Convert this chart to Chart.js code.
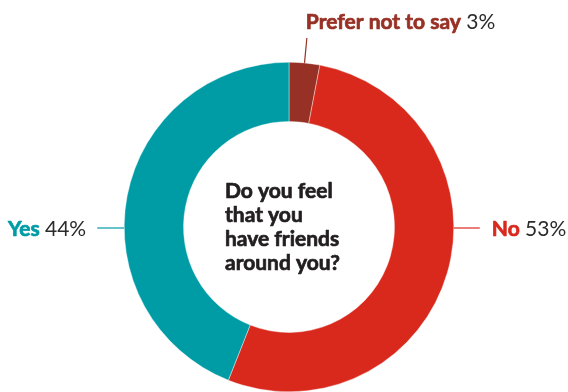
<!DOCTYPE html>
<html>
<head>
<meta charset="utf-8">
<script src="https://cdn.jsdelivr.net/npm/chart.js@4"></script>
<style>
  html, body { margin: 0; padding: 0; background: #fff; }
  #wrap { width: 568px; height: 392px; }
</style>
</head>
<body>
<div id="wrap"><canvas id="friendsChart" width="568" height="392"></canvas></div>
<script>
/* ================= DATA ================= */
const categories = ["Prefer not to say", "No", "Yes"];
const shares = [3, 53, 44];
const centerLines = ["Do you feel", "that you", "have friends", "around you?"];

/* ================= STYLE ================= */
const sliceColors = ["#983125", "#d9291d", "#009ca6"];
const labelSides = ["top", "right", "left"];
const FONT = "Lato, 'Noto Sans', sans-serif";
const BOLD = "bold 21px " + FONT;
const REG = "21px " + FONT;

// bold text with a thin outline, the source type is heavier than Lato Bold
function heavyText(ctx, text, x, y, color) {
    ctx.fillStyle = color;
    ctx.strokeStyle = color;
    ctx.lineWidth = 0.7;
    ctx.lineJoin = "round";
    ctx.fillText(text, x, y);
    ctx.strokeText(text, x, y);
}

/* ================= LABEL PLUGIN ================= */
const sliceLabels = {
    id: "sliceLabels",
    afterDraw(chart) {
        const ctx = chart.ctx;
        const meta = chart.getDatasetMeta(0);

        meta.data.forEach((arc, i) => {
            const p = arc.getProps(["x", "y", "outerRadius", "startAngle", "endAngle"], true);
            const color = sliceColors[i];
            const name = categories[i];
            const pct = " " + shares[i] + "%";
            let x1, y1, x2, y2, tx, ty, align;

            if (labelSides[i] === "top") {
                const mid = (p.startAngle + p.endAngle) / 2;
                x1 = p.x + Math.cos(mid) * p.outerRadius;
                y1 = p.y + Math.sin(mid) * p.outerRadius;
                x2 = p.x + Math.cos(mid) * (p.outerRadius + 25);
                y2 = p.y + Math.sin(mid) * (p.outerRadius + 25);
                tx = x2 - 1; ty = y2 - 9; align = "left";
            } else if (labelSides[i] === "right") {
                x1 = p.x + p.outerRadius; y1 = p.y + 1;
                x2 = x1 + 26; y2 = y1;
                tx = x2 + 12; ty = y1 + 8; align = "left";
            } else {
                x1 = p.x - p.outerRadius; y1 = p.y + 1;
                x2 = x1 - 27; y2 = y1;
                tx = x2 - 11; ty = y1 + 8; align = "right";
            }

            ctx.save();
            ctx.strokeStyle = color;
            ctx.lineWidth = 1.2;
            ctx.beginPath();
            ctx.moveTo(x1, y1);
            ctx.lineTo(x2, y2);
            ctx.stroke();

            ctx.textBaseline = "alphabetic";
            ctx.font = BOLD;
            const nameW = ctx.measureText(name).width;
            ctx.font = REG;
            const pctW = ctx.measureText(pct).width;
            const startX = align === "left" ? tx : tx - nameW - pctW;

            ctx.textAlign = "left";
            ctx.font = BOLD;
            heavyText(ctx, name, startX, ty, color);
            ctx.font = REG;
            ctx.fillStyle = "#2b2b2b";
            ctx.fillText(pct, startX + nameW, ty);
            ctx.restore();
        });

        // question in the middle
        const c = meta.data[0];
        ctx.save();
        ctx.font = BOLD;
        ctx.textAlign = "left";
        centerLines.forEach((line, k) => {
            heavyText(ctx, line, c.x - 64, c.y - 29 + k * 24, "#231f20");
        });
        ctx.restore();
    }
};

/* ================= CHART ================= */
new Chart(document.getElementById("friendsChart"), {
    type: "doughnut",
    data: {
        labels: categories,
        datasets: [{
            data: shares,
            backgroundColor: sliceColors,
            borderColor: "#ffffff",
            borderWidth: 0.4,
            hoverOffset: 0
        }]
    },
    options: {
        responsive: false,
        animation: false,
        cutout: "64%",
        layout: { padding: { top: 62, bottom: 0, left: 10, right: 0 } },
        plugins: {
            legend: { display: false },
            tooltip: { enabled: false }
        }
    },
    plugins: [sliceLabels]
});
</script>
</body>
</html>
